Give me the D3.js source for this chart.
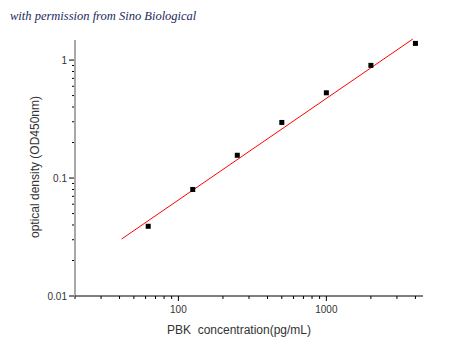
<!DOCTYPE html>
<html>
<head>
<meta charset="utf-8">
<script src="https://cdn.jsdelivr.net/npm/d3@7"></script>
<style>
  body { margin: 0; background: #fff; }
  text { font-family: "Liberation Sans", Arial, sans-serif; }
</style>
</head>
<body>
<div id="chart"></div>
<script>
// standard curve points
const concentration = [62.5, 125, 250, 500, 1000, 2000, 4000];
const od450 = [0.039, 0.080, 0.156, 0.296, 0.528, 0.902, 1.385];

// fitted line, end points
const fitX = [41.3, 3840];
const fitY = [0.0304, 1.507];

const xTickLabels = [100, 1000];
const yTickLabels = [0.01, 0.1, 1];

const width = 450,
    height = 353;

const svg = d3.select("#chart")
    .append("svg")
    .attr("width", width)
    .attr("height", height);

const x = d3.scaleLog()
    .domain([20, 4500])
    .range([75, 423]);

const y = d3.scaleLog()
    .domain([0.01, 1.48])
    .range([296, 40]);

// minor ticks
const xMinor = x.ticks().filter(d => !xTickLabels.includes(d));
const yMinor = y.ticks().filter(d => !yTickLabels.some(t => Math.abs(t - d) < 1e-9));

// y axis: gray line, black ticks
svg.append("line")
    .attr("x1", 75).attr("x2", 75)
    .attr("y1", y.range()[1]).attr("y2", y.range()[0])
    .attr("stroke", "#a8a8a8")
    .attr("stroke-width", 2);

const yAxis = svg.append("g").attr("transform", "translate(74,0)");
yAxis.selectAll(".minor")
    .data(yMinor)
    .join("line")
    .attr("x1", -2).attr("x2", 0)
    .attr("y1", d => y(d)).attr("y2", d => y(d))
    .attr("stroke", "#000");
yAxis.selectAll(".major")
    .data(yTickLabels)
    .join("line")
    .attr("x1", -5).attr("x2", 0)
    .attr("y1", d => y(d)).attr("y2", d => y(d))
    .attr("stroke", "#000");
yAxis.selectAll("text")
    .data(yTickLabels)
    .join("text")
    .attr("x", -7)
    .attr("y", d => y(d))
    .attr("dy", "0.35em")
    .attr("text-anchor", "end")
    .attr("font-size", 10)
    .attr("fill", "#333")
    .text(d => d);

// x axis
svg.append("line")
    .attr("x1", 75).attr("x2", 423)
    .attr("y1", 296).attr("y2", 296)
    .attr("stroke", "#000");

const xAxis = svg.append("g").attr("transform", "translate(0,296)");
xAxis.selectAll(".minor")
    .data(xMinor)
    .join("line")
    .attr("x1", d => x(d)).attr("x2", d => x(d))
    .attr("y1", 0).attr("y2", 3)
    .attr("stroke", "#000");
xAxis.selectAll(".major")
    .data(xTickLabels)
    .join("line")
    .attr("x1", d => x(d)).attr("x2", d => x(d))
    .attr("y1", 0).attr("y2", 5)
    .attr("stroke", "#000");
xAxis.selectAll("text")
    .data(xTickLabels)
    .join("text")
    .attr("x", d => x(d))
    .attr("y", 17)
    .attr("text-anchor", "middle")
    .attr("font-size", 10)
    .attr("fill", "#333")
    .text(d => d);

// axis titles
svg.append("text")
    .attr("x", 239)
    .attr("y", 334)
    .attr("text-anchor", "middle")
    .attr("font-size", 12)
    .attr("fill", "#333")
    .attr("xml:space", "preserve")
    .text("PBK  concentration(pg/mL)");

svg.append("text")
    .attr("transform", "translate(39,167) rotate(-90)")
    .attr("text-anchor", "middle")
    .attr("font-size", 12)
    .attr("fill", "#333")
    .text("optical density (OD450nm)");

// fit line
svg.append("path")
    .datum(fitX.map((d, i) => [d, fitY[i]]))
    .attr("fill", "none")
    .attr("stroke", "#ff0000")
    .attr("stroke-width", 1)
    .attr("d", d3.line().x(d => x(d[0])).y(d => y(d[1])));

// points
svg.selectAll(".pt")
    .data(concentration)
    .join("rect")
    .attr("x", d => x(d) - 2.5)
    .attr("y", (d, i) => y(od450[i]) - 2.5)
    .attr("width", 5)
    .attr("height", 5)
    .attr("fill", "#000");

// credit
svg.append("text")
    .attr("x", 10)
    .attr("y", 20)
    .style("font-family", "'Liberation Serif', serif")
    .style("font-style", "italic")
    .attr("font-size", 12.5)
    .attr("fill", "#1c2a5c")
    .text("with permission from Sino Biological");
</script>
</body>
</html>
